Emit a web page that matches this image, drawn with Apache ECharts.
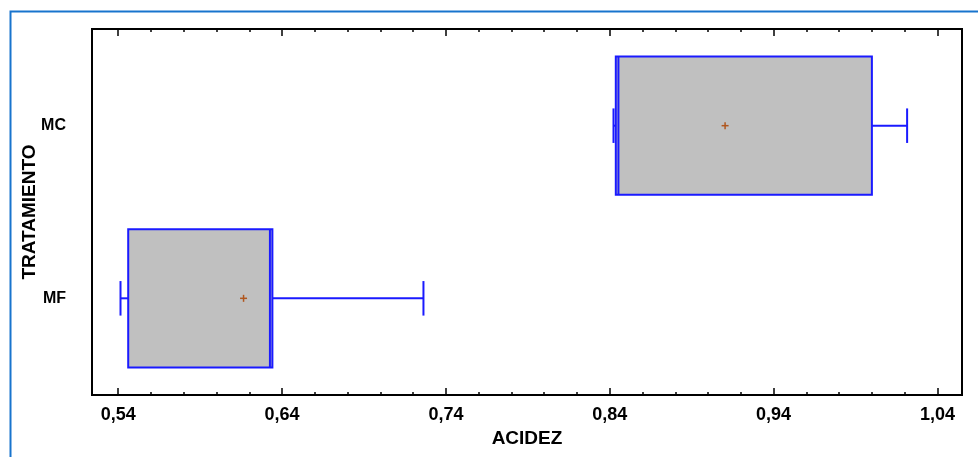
<!DOCTYPE html>
<html>
<head>
<meta charset="utf-8">
<script src="https://cdn.jsdelivr.net/npm/echarts@6/dist/echarts.min.js"></script>
<style>
html,body{margin:0;padding:0;background:#fff;}
#chart{width:978px;height:457px;}
</style>
</head>
<body>
<div id="chart"></div>
<script>
// ---- data ----
var categories = ['MF', 'MC'];
var whiskerLow  = [0.5414, 0.8423];
var q1Values    = [0.5461, 0.8437];
var medians     = [0.6326, 0.8453];
var q3Values    = [0.6341, 1.0000];
var whiskerHigh = [0.7263, 1.0215];
var means       = [0.6165, 0.9104];

var tickLabels = [0.54, 0.64, 0.74, 0.84, 0.94, 1.04];
var minorTicks = [0.54, 0.56, 0.58, 0.60, 0.62, 0.64, 0.66, 0.68, 0.70, 0.72, 0.74,
                  0.76, 0.78, 0.80, 0.82, 0.84, 0.86, 0.88, 0.90, 0.92, 0.94,
                  0.96, 0.98, 1.00, 1.02, 1.04];
var xName = 'ACIDEZ';
var yName = 'TRATAMIENTO';

var FONT = '"Liberation Sans", Arial, sans-serif';
var XMIN = 0.524, XMAX = 1.055;
var YMIN = 0.44, YMAX = 2.56;
var BOX_H = 0.8, CAP_H = 0.2;
var BLUE = '#1a1aff';

var seriesData = categories.map(function (c, i) {
  return [i + 1, whiskerLow[i], q1Values[i], medians[i], q3Values[i], whiskerHigh[i], means[i]];
});

function fmt(v) { return v.toFixed(2).replace('.', ','); }

function baseX(extra) {
  var o = {
    type: 'value', gridIndex: 0, min: XMIN, max: XMAX,
    axisLine: { show: false }, splitLine: { show: false },
    axisLabel: { show: false }, axisTick: { show: false }
  };
  for (var k in extra) o[k] = extra[k];
  return o;
}

var chart = echarts.init(document.getElementById('chart'), null, { renderer: 'canvas' });

var option = {
  animation: false,
  backgroundColor: '#ffffff',
  graphic: [{
    type: 'rect', left: 8, top: 9, z: -10,
    shape: { x: 0, y: 0, width: 1000, height: 500 },
    style: { fill: 'none', stroke: '#1874CD', lineWidth: 2 }
  }],
  grid: {
    left: 92, top: 29, width: 870, height: 366,
    show: true, borderColor: '#000', borderWidth: 2, backgroundColor: 'transparent'
  },
  xAxis: [
    baseX({
      position: 'bottom',
      axisTick: { show: true, inside: true, length: 3, customValues: minorTicks,
                  lineStyle: { color: '#000', width: 1.5 } }
    }),
    baseX({
      position: 'bottom',
      name: xName, nameLocation: 'middle', nameGap: 34, nameMoveOverlap: false,
      nameTextStyle: { fontFamily: FONT, fontWeight: 'bold', fontSize: 19, color: '#000' },
      axisTick: { show: true, inside: true, length: 7, customValues: tickLabels,
                  lineStyle: { color: '#000', width: 1.5 } },
      axisLabel: { show: true, customValues: tickLabels, margin: 11, formatter: fmt,
                   fontFamily: FONT, fontWeight: 'bold', fontSize: 18, color: '#000' }
    }),
    baseX({
      position: 'top',
      axisTick: { show: true, inside: true, length: 3, customValues: minorTicks,
                  lineStyle: { color: '#000', width: 1.5 } }
    }),
    baseX({
      position: 'top',
      axisTick: { show: true, inside: true, length: 7, customValues: tickLabels,
                  lineStyle: { color: '#000', width: 1.5 } }
    })
  ],
  yAxis: [{
    type: 'value', min: YMIN, max: YMAX,
    axisLine: { show: false }, axisTick: { show: false }, splitLine: { show: false },
    name: yName, nameLocation: 'middle', nameGap: 53, nameRotate: 90, nameMoveOverlap: false,
    nameTextStyle: { fontFamily: FONT, fontWeight: 'bold', fontSize: 19, color: '#000' },
    axisLabel: {
      show: true, customValues: [1, 2], margin: 26,
      formatter: function (v) { return categories[Math.round(v) - 1]; },
      fontFamily: FONT, fontWeight: 'bold', fontSize: 16, color: '#000'
    }
  }],
  series: [{
    type: 'custom',
    xAxisIndex: 1, yAxisIndex: 0,
    data: seriesData,
    encode: { x: [1, 2, 3, 4, 5, 6], y: 0 },
    renderItem: function (params, api) {
      var y = api.value(0);
      var pLow = api.coord([api.value(1), y]);
      var pQ1 = api.coord([api.value(2), y]);
      var pMed = api.coord([api.value(3), y]);
      var pQ3 = api.coord([api.value(4), y]);
      var pHigh = api.coord([api.value(5), y]);
      var pMean = api.coord([api.value(6), y]);
      var bh = api.size([0, BOX_H])[1];
      var ch = api.size([0, CAP_H])[1];
      var cy = pQ1[1];
      var ls = { stroke: BLUE, lineWidth: 2 };
      return {
        type: 'group',
        children: [
          { type: 'line', shape: { x1: pLow[0], y1: cy, x2: pQ1[0], y2: cy }, style: ls },
          { type: 'line', shape: { x1: pQ3[0], y1: cy, x2: pHigh[0], y2: cy }, style: ls },
          { type: 'line', shape: { x1: pLow[0], y1: cy - ch / 2, x2: pLow[0], y2: cy + ch / 2 }, style: ls },
          { type: 'line', shape: { x1: pHigh[0], y1: cy - ch / 2, x2: pHigh[0], y2: cy + ch / 2 }, style: ls },
          { type: 'rect', shape: { x: pQ1[0], y: cy - bh / 2, width: pQ3[0] - pQ1[0], height: bh },
            style: { fill: '#C0C0C0', stroke: BLUE, lineWidth: 2 } },
          { type: 'line', shape: { x1: pMed[0], y1: cy - bh / 2, x2: pMed[0], y2: cy + bh / 2 }, style: ls },
          { type: 'line', shape: { x1: pMean[0] - 3.5, y1: pMean[1], x2: pMean[0] + 3.5, y2: pMean[1] },
            style: { stroke: '#B0561E', lineWidth: 1.5 } },
          { type: 'line', shape: { x1: pMean[0], y1: pMean[1] - 3.5, x2: pMean[0], y2: pMean[1] + 3.5 },
            style: { stroke: '#B0561E', lineWidth: 1.5 } }
        ]
      };
    }
  }]
};
chart.setOption(option);
</script>
</body>
</html>
